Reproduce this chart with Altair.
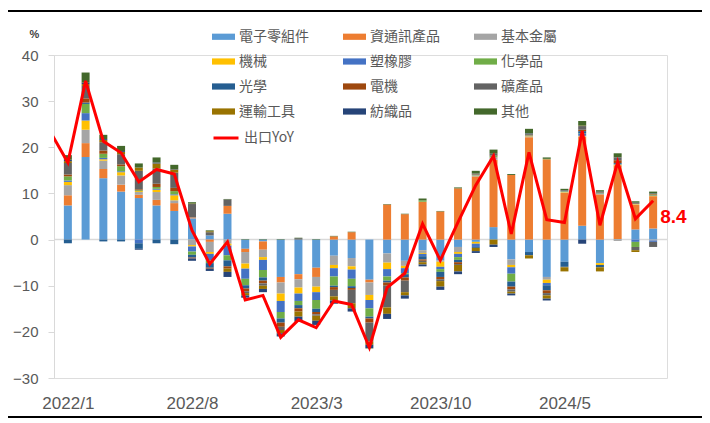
import altair as alt
import pandas as pd

months = ["2022/1","2022/2","2022/3","2022/4","2022/5","2022/6","2022/7","2022/8","2022/9","2022/10","2022/11","2022/12",
          "2023/1","2023/2","2023/3","2023/4","2023/5","2023/6","2023/7","2023/8","2023/9","2023/10","2023/11","2023/12",
          "2024/1","2024/2","2024/3","2024/4","2024/5","2024/6","2024/7","2024/8","2024/9","2024/10"]
tick_months = ["2022/1", "2022/8", "2023/3", "2023/10", "2024/5"]

categories = ["電子零組件","資通訊產品","基本金屬","機械","塑橡膠","化學品","光學","電機","礦產品","運輸工具","紡織品","其他"]
colors = ["#5B9BD5","#ED7D31","#A5A5A5","#FFC000","#4472C4","#70AD47","#255E91","#9E480E","#636363","#997300","#264478","#43682B"]

electronics = [7.4,17.9,13.3,10.4,9.0,7.4,6.2,4.6,0.9,5.6,-2.0,-0.4,-8.1,-7.5,-6.1,-3.5,-4.0,-8.7,-3.0,-4.6,-2.3,-4.5,-1.6,-0.5,2.7,-4.3,-2.7,-8.1,-4.8,3.0,-5.1,0.1,2.2,2.4]
ict = [2.2,3.0,2.0,1.5,0.7,1.2,1.7,0.2,-0.5,1.7,-0.7,-1.8,-1.2,-1.1,-2.0,0.7,1.6,-0.6,7.6,5.5,8.2,6.1,11.1,13.7,14.6,14.0,22.2,17.4,10.1,19.3,9.8,16.0,5.3,7.0]
metals = [2.2,2.9,1.8,2.0,0.6,1.7,0.6,-1.2,-2.2,-0.9,-2.5,-1.6,-2.4,-1.8,-2.1,-2.0,-1.8,-2.7,-2.0,-1.1,-0.6,-0.3,-1.1,0.2,0.4,-1.2,0.1,-0.6,0.1,0.1,0.1,-0.3,0.1,-0.2]
machinery = [0.7,2.0,0.3,0.7,0.2,0.5,1.1,-0.3,-0.4,-0.4,-1.1,-0.6,-1.6,-1.3,-1.2,-0.7,-0.7,-1.1,-1.4,-0.5,-0.2,-1.1,-0.4,-0.4,0.1,-0.5,0.1,-0.7,0.1,0.1,-0.4,0.1,0.1,0.1]
plastics = [0.3,1.6,0.3,0.2,-0.8,0.2,0.2,-1.1,-1.4,-2.1,-2.2,-2.2,-2.4,-1.6,-1.7,-1.8,-2.0,-1.8,-1.6,-1.1,-0.5,-0.5,-0.7,-0.7,0.1,-1.4,0.1,-0.5,0.1,0.4,0.1,0.1,-0.5,-0.3]
chemicals = [0.9,2.0,0.9,1.1,0.2,0.4,0.7,-0.7,-0.6,-1.1,-1.4,-1.6,-1.4,-0.9,-1.9,-2.0,-1.6,-1.8,-0.9,-0.2,0.3,-0.6,-0.6,0.1,0.2,-1.7,0.1,0.1,0.1,0.1,0.1,0.1,-1.1,0.1]
optics = [-0.8,0.3,-0.4,-0.4,-1.2,-0.8,-1.0,-0.6,-1.0,-1.3,-0.7,-0.7,-0.9,-0.7,-0.7,-0.3,-0.4,-0.4,-0.4,-0.7,-0.7,-1.1,-0.5,-0.2,0.1,-1.1,-0.7,-1.1,-1.1,0.5,-0.5,0.2,0.1,0.1]
electrical = [0.4,0.9,0.7,0.4,0.2,0.7,0.7,-0.2,-0.2,-0.5,-0.6,-0.6,-0.9,-0.7,-0.5,-0.6,-0.4,-0.9,-0.7,-0.7,-0.3,-0.5,-0.4,0.1,0.1,-0.6,0.1,-0.6,0.1,0.3,0.1,0.6,0.1,0.1]
minerals = [2.5,2.7,1.8,2.2,4.0,3.3,3.3,2.9,0.7,1.4,-0.4,-0.5,-0.7,0.3,-0.3,-1.4,-2.9,-4.1,-4.7,-2.5,-0.3,-0.4,-0.2,0.2,0.3,-0.5,0.2,-0.5,-0.1,0.8,0.1,0.5,-0.7,-1.1]
transport = [0.4,0.4,0.5,0.5,0.7,1.1,0.7,0.1,0.2,-0.7,-0.5,-0.7,-0.7,-1.1,-1.1,-0.9,-1.1,-0.7,-1.4,-0.7,-0.5,-1.2,-1.4,-0.7,-1.1,-0.4,-0.7,-0.7,-0.9,0.1,-0.9,0.1,-0.4,0.1]
textiles = [0.3,0.3,0.2,0.2,-0.2,0.2,0.1,-0.5,-0.5,-1.1,-0.5,-0.7,-0.7,-1.1,-0.9,-0.7,-0.7,-0.7,-1.1,-0.7,-0.4,-0.7,-0.6,-0.4,-0.5,-0.4,0.1,-0.4,0.1,-0.9,0.1,0.1,0.1,0.1]
others = [1.0,2.2,0.9,1.1,0.9,1.1,0.9,0.3,0.2,0.1,0.1,0.1,0.1,0.1,0.1,0.1,0.1,-0.1,0.1,0.1,0.4,0.1,0.2,0.6,0.9,0.2,1.0,0.3,0.3,1.0,0.3,0.8,0.3,0.4]

# export YoY line (first point is 2021/12, partly outside the plot)
yoy_months = ["2021/12"] + months
yoy = [23.4,16.7,34.4,21.3,18.8,12.5,15.2,14.2,2.0,-5.3,-0.5,-13.1,-12.1,
       -21.2,-17.4,-19.1,-13.3,-14.1,-23.4,-10.4,-7.3,3.4,-4.5,3.8,11.8,
       18.1,1.2,18.9,4.3,3.7,23.5,3.1,16.8,4.5,8.4]

series = [electronics, ict, metals, machinery, plastics, chemicals, optics, electrical, minerals, transport, textiles, others]

rows = []
for ci, (cat, vals) in enumerate(zip(categories, series)):
    for mi, v in enumerate(vals):
        rows.append({"idx": mi, "month": months[mi], "cat": cat, "order": ci, "value": v})
bars_df = pd.DataFrame(rows)

line_df = pd.DataFrame({"idx": list(range(-1, len(months))), "month": yoy_months,
                        "yoy": yoy, "series": "出口YoY"})
last_df = line_df.tail(1)

label_js = "[" + ",".join("'" + m + "'" for m in months) + "]"
tick_vals = [months.index(m) for m in tick_months]

FONT = "Liberation Sans"
CJK = "Noto Sans CJK TC"
W, H = 613, 323

xscale = alt.Scale(domain=[-0.5, len(months) - 0.5], nice=False, zero=False)
yscale = alt.Scale(domain=[-30, 40], nice=False)

xaxis = alt.Axis(values=tick_vals, labelExpr=label_js + "[datum.value]", title=None,
                 domain=False, ticks=False, tickSize=0, grid=False, labelFontSize=17,
                 labelColor="#595959", labelFont=FONT, labelPadding=17)
yaxis = alt.Axis(values=list(range(-30, 41, 10)), title="%", titleAngle=0, titleX=-20, titleY=-16,
                 titleFontSize=11, titleFont=FONT, titleColor="#404040", titleFontWeight="bold",
                 grid=False, domainColor="#D9D9D9", tickColor="#D9D9D9", tickSize=6,
                 labelFontSize=15, labelColor="#595959", labelFont=FONT, labelPadding=10)

base_zero = alt.Chart(pd.DataFrame({"y": [0]})).mark_rule(color="#D9D9D9", strokeWidth=1.5).encode(
    y=alt.Y("y:Q", scale=yscale, axis=yaxis),
)

bars = alt.Chart(bars_df).mark_bar(size=8).encode(
    x=alt.X("idx:Q", scale=xscale, axis=xaxis),
    y=alt.Y("value:Q", stack="zero", scale=yscale),
    color=alt.Color("cat:N", scale=alt.Scale(domain=categories, range=colors),
                    legend=alt.Legend(title=None, orient="none", legendX=158, legendY=-30,
                                      direction="horizontal",
                                      columns=3, columnPadding=34, rowPadding=6,
                                      symbolType="M-1,-0.27H1V0.27H-1Z", symbolSize=529,
                                      symbolStrokeWidth=0, labelFont=CJK, labelFontSize=14,
                                      labelColor="#595959", labelOffset=4)),
    order=alt.Order("order:Q", sort="ascending"),
)

line = alt.Chart(line_df).mark_line(strokeWidth=3, clip=True).encode(
    x=alt.X("idx:Q", scale=xscale),
    y=alt.Y("yoy:Q", scale=yscale),
    stroke=alt.Stroke("series:N", scale=alt.Scale(domain=["出口YoY"], range=["#FF0000"]),
                      legend=alt.Legend(title=None, orient="none", legendX=158, legendY=69,
                                        symbolType="stroke", symbolSize=625, symbolStrokeWidth=3,
                                        labelFont=CJK, labelFontSize=14, labelColor="#595959",
                                        labelOffset=4)),
)

label = alt.Chart(last_df).mark_text(align="left", baseline="middle", dx=7, dy=16,
                                     fontSize=19, fontWeight="bold", color="#FF0000", font=FONT).encode(
    x=alt.X("idx:Q", scale=xscale),
    y=alt.Y("yoy:Q", scale=yscale),
    text=alt.Text("yoy:Q", format=".1f"),
)

frame_top = alt.Chart(pd.DataFrame({"a": [0]})).mark_rule(color="#000000", strokeWidth=2).encode(
    x=alt.value(-46), x2=alt.value(649), y=alt.value(-44))
frame_bot = alt.Chart(pd.DataFrame({"a": [0]})).mark_rule(color="#000000", strokeWidth=2).encode(
    x=alt.value(-46), x2=alt.value(649), y=alt.value(362))

chart = alt.layer(base_zero, bars, line, label, frame_top, frame_bot).resolve_legend(
    color="independent", stroke="independent"
).properties(
    width=W, height=H,
    autosize=alt.AutoSizeParams(type="none"),
    padding={"left": 46, "top": 47, "right": 35, "bottom": 40},
).configure_view(stroke=None).configure(background="white")

chart.save("out.html", embed_options={"renderer": "svg", "actions": False})
